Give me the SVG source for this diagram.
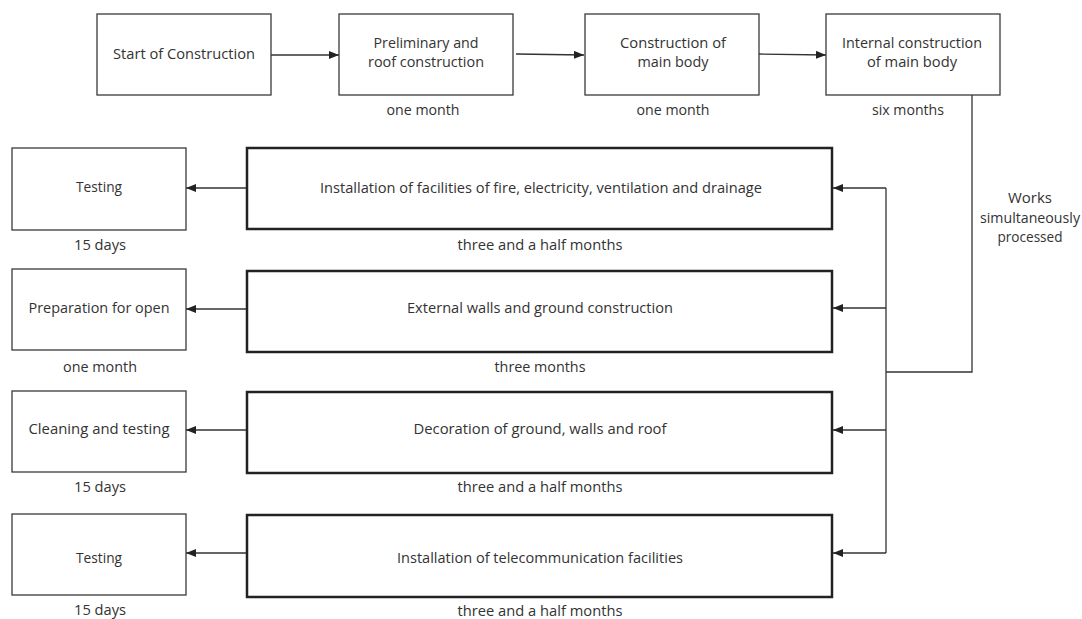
<svg xmlns="http://www.w3.org/2000/svg" width="1082" height="619" viewBox="0 0 1082 619">
<style>
text{font-family:"Open Sans","Noto Sans","Liberation Sans",sans-serif;font-size:14.5px;fill:#333;text-anchor:middle}
.thin{fill:#fff;stroke:#3a3a3a;stroke-width:1.3}
.thick{fill:#fff;stroke:#222;stroke-width:2.5}
.con{fill:none;stroke:#333;stroke-width:1.3}
</style>
<defs>
<marker id="ah" viewBox="0 0 10 8" refX="10" refY="4" markerWidth="10" markerHeight="8" markerUnits="userSpaceOnUse" orient="auto">
<path d="M0,0 L10,4 L0,8 Z" fill="#222"/>
</marker>
</defs>
<rect width="1082" height="619" fill="#fff"/>
<g id="connectors">
<line class="con" x1="271" y1="55" x2="339" y2="55" marker-end="url(#ah)"/>
<line class="con" x1="516" y1="54" x2="584" y2="55" marker-end="url(#ah)"/>
<line class="con" x1="759" y1="54" x2="826" y2="55" marker-end="url(#ah)"/>
<polyline class="con" points="972,95 972,372 886,372"/>
<line class="con" x1="886" y1="188" x2="886" y2="553"/>
<line class="con" x1="886" y1="188" x2="833" y2="188" marker-end="url(#ah)"/>
<line class="con" x1="886" y1="308" x2="833" y2="308" marker-end="url(#ah)"/>
<line class="con" x1="886" y1="430" x2="833" y2="430" marker-end="url(#ah)"/>
<line class="con" x1="886" y1="553" x2="833" y2="553" marker-end="url(#ah)"/>
<line class="con" x1="247" y1="188" x2="186" y2="188" marker-end="url(#ah)"/>
<line class="con" x1="247" y1="309" x2="186" y2="309" marker-end="url(#ah)"/>
<line class="con" x1="247" y1="430" x2="186" y2="430" marker-end="url(#ah)"/>
<line class="con" x1="247" y1="553" x2="186" y2="553" marker-end="url(#ah)"/>
</g>
<g id="start">
<rect class="thin" x="97" y="14" width="174" height="81"/>
<text x="184" y="59" textLength="142" lengthAdjust="spacingAndGlyphs">Start of Construction</text>
</g>
<g id="preliminary">
<rect class="thin" x="339" y="14" width="174" height="81"/>
<text x="426" y="48" textLength="105" lengthAdjust="spacingAndGlyphs">Preliminary and</text>
<text x="426" y="67" textLength="116" lengthAdjust="spacingAndGlyphs">roof construction</text>
<text x="423" y="115" textLength="73" lengthAdjust="spacingAndGlyphs">one month</text>
</g>
<g id="mainbody">
<rect class="thin" x="585" y="14" width="174" height="81"/>
<text x="673" y="48" textLength="106" lengthAdjust="spacingAndGlyphs">Construction of</text>
<text x="673" y="67" textLength="71" lengthAdjust="spacingAndGlyphs">main body</text>
<text x="673" y="115" textLength="73" lengthAdjust="spacingAndGlyphs">one month</text>
</g>
<g id="internal">
<rect class="thin" x="826" y="14" width="174" height="81"/>
<text x="912" y="48" textLength="140" lengthAdjust="spacingAndGlyphs">Internal construction</text>
<text x="912" y="67" textLength="90" lengthAdjust="spacingAndGlyphs">of main body</text>
<text x="908" y="115" textLength="72" lengthAdjust="spacingAndGlyphs">six months</text>
</g>
<g id="works-label">
<text x="1030" y="203" textLength="44" lengthAdjust="spacingAndGlyphs">Works</text>
<text x="1030" y="223" textLength="100" lengthAdjust="spacingAndGlyphs">simultaneously</text>
<text x="1030" y="242" textLength="65" lengthAdjust="spacingAndGlyphs">processed</text>
</g>
<g id="install-fire">
<rect class="thick" x="247" y="148" width="585" height="81"/>
<text x="541" y="193" textLength="442" lengthAdjust="spacingAndGlyphs">Installation of facilities of fire, electricity, ventilation and drainage</text>
<text x="540" y="250" textLength="165" lengthAdjust="spacingAndGlyphs">three and a half months</text>
</g>
<g id="external">
<rect class="thick" x="247" y="271" width="585" height="81"/>
<text x="540" y="313" textLength="266" lengthAdjust="spacingAndGlyphs">External walls and ground construction</text>
<text x="540" y="372" textLength="91" lengthAdjust="spacingAndGlyphs">three months</text>
</g>
<g id="decoration">
<rect class="thick" x="247" y="392" width="585" height="81"/>
<text x="540" y="434" textLength="253" lengthAdjust="spacingAndGlyphs">Decoration of ground, walls and roof</text>
<text x="540" y="492" textLength="165" lengthAdjust="spacingAndGlyphs">three and a half months</text>
</g>
<g id="telecom">
<rect class="thick" x="247" y="515" width="585" height="82"/>
<text x="540" y="563" textLength="286" lengthAdjust="spacingAndGlyphs">Installation of telecommunication facilities</text>
<text x="540" y="616" textLength="165" lengthAdjust="spacingAndGlyphs">three and a half months</text>
</g>
<g id="testing1">
<rect class="thin" x="12" y="148" width="174" height="82"/>
<text x="99" y="192" textLength="46" lengthAdjust="spacingAndGlyphs">Testing</text>
<text x="100" y="250" textLength="52" lengthAdjust="spacingAndGlyphs">15 days</text>
</g>
<g id="preparation">
<rect class="thin" x="12" y="269" width="174" height="81"/>
<text x="99" y="313" textLength="141" lengthAdjust="spacingAndGlyphs">Preparation for open</text>
<text x="100" y="372" textLength="74" lengthAdjust="spacingAndGlyphs">one month</text>
</g>
<g id="cleaning">
<rect class="thin" x="12" y="391" width="174" height="81"/>
<text x="99" y="434" textLength="141" lengthAdjust="spacingAndGlyphs">Cleaning and testing</text>
<text x="100" y="492" textLength="52" lengthAdjust="spacingAndGlyphs">15 days</text>
</g>
<g id="testing2">
<rect class="thin" x="12" y="514" width="174" height="81"/>
<text x="99" y="563" textLength="46" lengthAdjust="spacingAndGlyphs">Testing</text>
<text x="100" y="615" textLength="52" lengthAdjust="spacingAndGlyphs">15 days</text>
</g>
</svg>
